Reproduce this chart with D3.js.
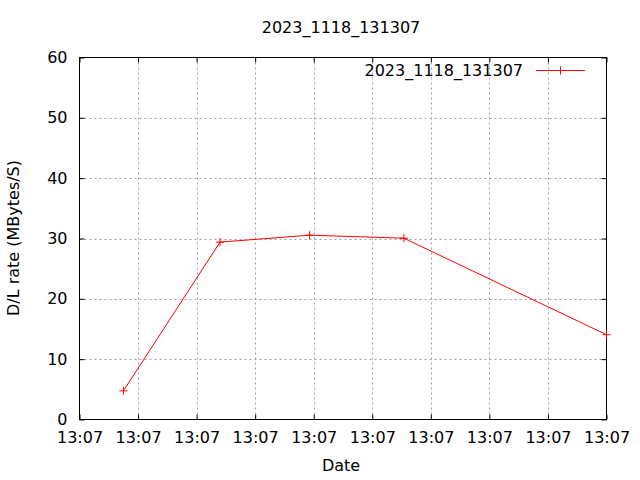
<!DOCTYPE html>
<html><head><meta charset="utf-8">
<script src="https://cdn.jsdelivr.net/npm/d3@7"></script>
<style>body{margin:0;background:#fff}svg{display:block}text{font-family:"DejaVu Sans",sans-serif;font-size:16px;fill:#000}</style>
</head><body><svg id="c" width="640" height="480"></svg>
<script>
const title = "2023_1118_131307";
const seriesName = "2023_1118_131307";
const xPos = [0.75, 2.40, 3.93, 5.54, 9.0];
const rate = [4.75, 29.4, 30.55, 30.05, 14.05];
const xTickValues = [0,1,2,3,4,5,6,7,8,9];
const xTickLabels = ["13:07","13:07","13:07","13:07","13:07","13:07","13:07","13:07","13:07","13:07"];
const yTicks = [0,10,20,30,40,50,60];

const svg = d3.select("#c");
const L=79.5,R=606.5,T=57.5,B=419.5;
const x = d3.scaleLinear().domain([0,9]).range([L,R]);
const y = d3.scaleLinear().domain([0,60]).range([B,T]);
const tl = 5;

// grid
const g = svg.append("g").attr("stroke","#a0a0a0").attr("stroke-width",1).attr("stroke-dasharray","2,3");
xTickValues.slice(1,-1).forEach(v=>g.append("line").attr("x1",Math.round(x(v))+0.5).attr("x2",Math.round(x(v))+0.5).attr("y1",T).attr("y2",B));
yTicks.slice(1,-1).forEach(v=>g.append("line").attr("y1",Math.round(y(v))+0.5).attr("y2",Math.round(y(v))+0.5).attr("x1",L).attr("x2",R));

// axes with inward ticks on all sides
const ax = svg.append("g");
ax.append("g").attr("transform",`translate(0,${B})`).call(d3.axisBottom(x).tickValues(xTickValues).tickSize(-tl).tickPadding(12).tickFormat((d,i)=>xTickLabels[i]));
ax.append("g").attr("transform",`translate(0,${T})`).call(d3.axisTop(x).tickValues(xTickValues).tickSize(-tl).tickFormat(""));
ax.append("g").attr("transform",`translate(${L},0)`).call(d3.axisLeft(y).tickValues(yTicks).tickSize(-tl).tickPadding(12));
ax.append("g").attr("transform",`translate(${R},0)`).call(d3.axisRight(y).tickValues(yTicks).tickSize(-tl).tickFormat(""));
ax.selectAll(".domain").remove();
ax.selectAll("line").attr("stroke","#000");
ax.selectAll("text").attr("font-size",16).attr("font-family","DejaVu Sans, sans-serif").attr("fill","#000");
svg.append("rect").attr("x",L).attr("y",T).attr("width",R-L).attr("height",B-T).attr("fill","none").attr("stroke","#000").attr("stroke-width",1);

// series
const data = xPos.map((v,i)=>({x:v,y:rate[i]}));
svg.append("path").datum(data).attr("fill","none").attr("stroke","#ff0000").attr("stroke-width",1)
  .attr("d",d3.line().x(d=>x(d.x)).y(d=>y(d.y)));
const s=4;
svg.selectAll(".pt").data(data).enter().append("path").attr("class","pt").attr("stroke","#ff0000").attr("stroke-width",1).attr("fill","none")
  .attr("d",d=>{const px=x(d.x),py=y(d.y);return `M${px-s},${py}H${px+s}M${px},${py-s}V${py+s}`;});

// legend
svg.append("text").attr("x",523).attr("y",76).attr("text-anchor","end").text(seriesName);
svg.append("line").attr("x1",536).attr("x2",585).attr("y1",70.5).attr("y2",70.5).attr("stroke","#ff0000");
svg.append("path").attr("stroke","#ff0000").attr("d",`M560.5,${70.5-s}V${70.5+s}`);

// titles
svg.append("text").attr("x",341).attr("y",33).attr("text-anchor","middle").text(title);
svg.append("text").attr("x",341).attr("y",471).attr("text-anchor","middle").text("Date");
svg.append("text").attr("transform","translate(19,238) rotate(-90)").attr("text-anchor","middle").text("D/L rate (MBytes/S)");
</script></body></html>
